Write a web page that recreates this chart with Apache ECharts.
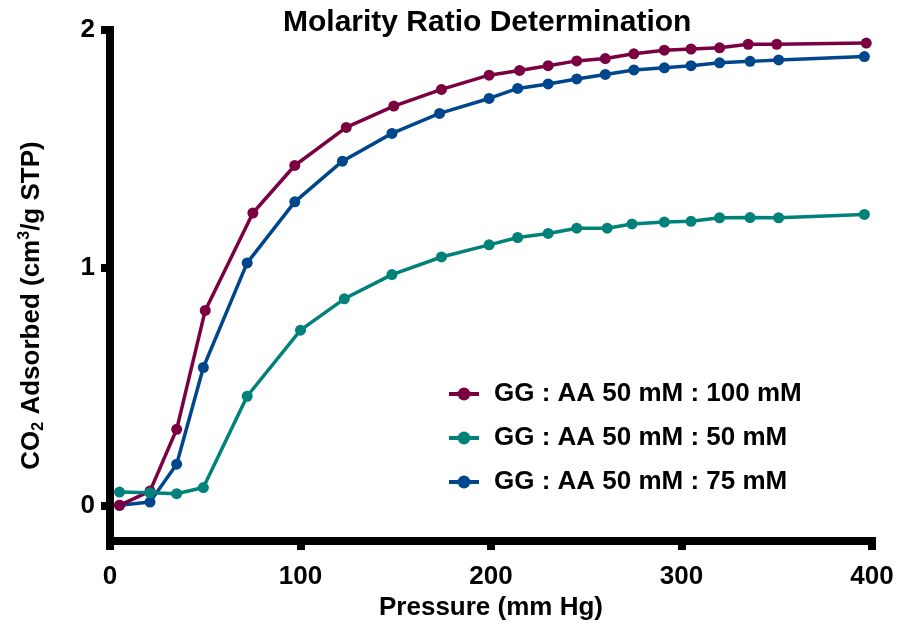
<!DOCTYPE html>
<html>
<head>
<meta charset="utf-8">
<script src="https://cdn.jsdelivr.net/npm/echarts@6/dist/echarts.min.js"></script>
<style>html,body{margin:0;padding:0;background:#fff}#c{width:898px;height:625px}</style>
</head>
<body>
<div id="c"></div>
<script>
var seriesNames = ['GG : AA 50 mM : 100 mM', 'GG : AA 50 mM : 50 mM', 'GG : AA 50 mM : 75 mM'];
var pressure100 = [5, 21, 35, 50, 75, 97, 124, 149, 174, 199, 215, 230, 245, 260, 275, 291, 305, 320, 335, 350, 397];
var ads100 = [0.00, 0.06, 0.32, 0.82, 1.23, 1.43, 1.59, 1.68, 1.75, 1.81, 1.83, 1.85, 1.87, 1.88, 1.90, 1.915, 1.92, 1.925, 1.94, 1.94, 1.945];
var pressure50 = [5, 21, 35, 49, 72, 100, 123, 148, 174, 199, 214, 230, 245, 261, 274, 291, 305, 320, 336, 351, 396];
var ads50 = [0.056, 0.053, 0.049, 0.075, 0.459, 0.737, 0.869, 0.971, 1.045, 1.096, 1.127, 1.144, 1.166, 1.166, 1.184, 1.192, 1.195, 1.210, 1.211, 1.210, 1.224];
var pressure75 = [5, 21, 35, 49, 72, 97, 122, 148, 173, 199, 214, 230, 245, 260, 275, 291, 305, 320, 336, 351, 396];
var ads75 = [0.00, 0.014, 0.173, 0.58, 1.02, 1.277, 1.448, 1.565, 1.649, 1.712, 1.754, 1.773, 1.794, 1.813, 1.832, 1.841, 1.850, 1.862, 1.868, 1.874, 1.888];
var xTicks = [0, 100, 200, 300, 400];
var yTicks = [0, 1, 2];
var colors = ['#7B0041', '#00817A', '#00468C'];

function pairs(xs, ys) { return xs.map(function (x, i) { return [x, ys[i]]; }); }

var FONT = "'Liberation Sans', Arial, Helvetica, sans-serif";
var chart = echarts.init(document.getElementById('c'), null, { renderer: 'canvas' });
var mk = function (name, xs, ys, color, z) {
  return {
    name: name, type: 'line', data: pairs(xs, ys), z: z,
    symbol: 'circle', symbolSize: 11, showSymbol: true,
    itemStyle: { color: color },
    lineStyle: { color: color, width: 3.5 },
    emphasis: { disabled: true }, animation: false
  };
};
chart.setOption({
  animation: false,
  color: colors,
  title: {
    text: 'Molarity Ratio Determination', left: 283, top: 8, padding: 0,
    textStyle: { fontFamily: FONT, fontSize: 30, fontWeight: 'bold', color: '#000' }
  },
  grid: { left: 110, right: 26, top: 30, bottom: 84, containLabel: false, outerBoundsMode: 'none' },
  legend: {
    orient: 'vertical', left: 447, top: 379, padding: 0, itemWidth: 30, itemHeight: 16, itemGap: 14,
    data: seriesNames,
    lineStyle: { width: 4 },
    textStyle: { fontFamily: FONT, fontSize: 26, fontWeight: 'bold', color: '#000', lineHeight: 30, padding: [0, 0, 0, 10] }
  },
  xAxis: {
    type: 'value', min: xTicks[0], max: xTicks[xTicks.length - 1], interval: 100,
    name: 'Pressure (mm Hg)', nameLocation: 'middle', nameGap: 46,
    nameTextStyle: { fontFamily: FONT, fontSize: 26, fontWeight: 'bold', color: '#000' },
    axisLine: { onZero: false, lineStyle: { color: '#000', width: 8, cap: 'square' } },
    axisTick: { length: 9, lineStyle: { color: '#000', width: 8 } },
    axisLabel: { margin: 23, fontFamily: FONT, fontSize: 26, fontWeight: 'bold', color: '#000' },
    splitLine: { show: false }
  },
  yAxis: {
    type: 'value', min: -0.15, max: 2,
    name: '{a|CO}{sub|2}{a| Adsorbed (cm}{sup|3}{a|/g STP)}', nameLocation: 'middle', nameGap: 63,
    nameTextStyle: {
      fontFamily: FONT, fontSize: 26, fontWeight: 'bold', color: '#000', padding: [0, 40, 0, 0],
      rich: {
        a: { fontFamily: FONT, fontSize: 26, fontWeight: 'bold', color: '#000', lineHeight: 30 },
        sub: { fontFamily: FONT, fontSize: 16, fontWeight: 'bold', color: '#000', lineHeight: 16, verticalAlign: 'bottom' },
        sup: { fontFamily: FONT, fontSize: 16, fontWeight: 'bold', color: '#000', lineHeight: 16, verticalAlign: 'top' }
      }
    },
    axisLine: { lineStyle: { color: '#000', width: 8, cap: 'square' } },
    axisTick: { length: 9, customValues: yTicks, lineStyle: { color: '#000', width: 8 } },
    axisLabel: { margin: 15, customValues: yTicks, fontFamily: FONT, fontSize: 26, fontWeight: 'bold', color: '#000' },
    splitLine: { show: false }
  },
  series: [
    mk(seriesNames[0], pressure100, ads100, colors[0], 3),
    mk(seriesNames[1], pressure50, ads50, colors[1], 4),
    mk(seriesNames[2], pressure75, ads75, colors[2], 2)
  ]
});
</script>
</body>
</html>
